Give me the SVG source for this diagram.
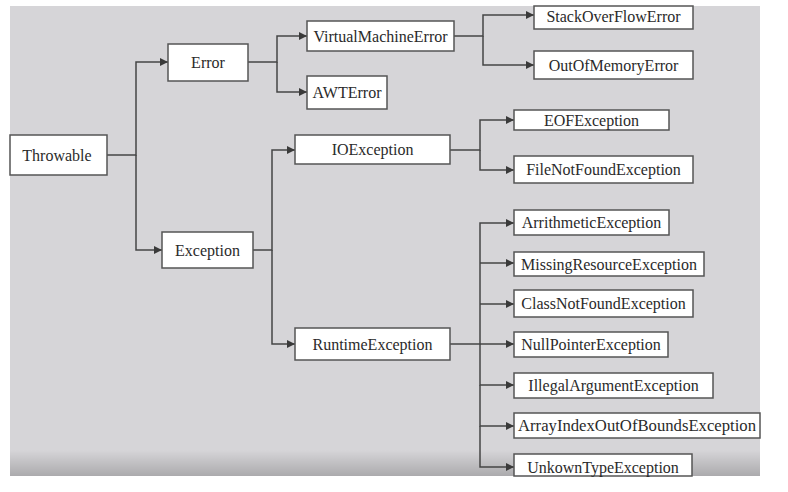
<svg xmlns="http://www.w3.org/2000/svg" width="788" height="492" viewBox="0 0 788 492">
<defs>
<marker id="ah" viewBox="0 0 10 10" refX="10" refY="5" markerWidth="9" markerHeight="8" markerUnits="userSpaceOnUse" orient="auto">
<path d="M0,0 L10,5 L0,10 z" fill="#3a3a3a"/>
</marker>
<linearGradient id="shade" x1="0" y1="0" x2="0" y2="1">
<stop offset="0" stop-color="#000" stop-opacity="0"/>
<stop offset="1" stop-color="#000" stop-opacity="0.2"/>
</linearGradient>
<style>
.box{fill:#fff;stroke:#555;stroke-width:1.5}
.lbl{font-family:"Liberation Serif","Times New Roman",serif;font-size:16px;fill:#2a2a2a;text-anchor:middle;dominant-baseline:central}
.edge{fill:none;stroke:#454545;stroke-width:1.5;marker-end:url(#ah)}
</style>
</defs>
<rect x="0" y="0" width="788" height="492" fill="#fff"/>
<rect x="10" y="6" width="750" height="470" fill="#d6d5d8"/>
<rect x="10" y="450" width="750" height="26" fill="url(#shade)"/>
<g id="connectors">
<path class="edge" d="M107,155 H136 V62 H168"/>
<path class="edge" d="M136,155 V250 H162"/>
<path class="edge" d="M248,62 H277 V36 H307"/>
<path class="edge" d="M277,62 V92 H307"/>
<path class="edge" d="M454,36 H483 V15 H534"/>
<path class="edge" d="M483,36 V65 H534"/>
<path class="edge" d="M253,250 H272 V150 H295"/>
<path class="edge" d="M272,250 V344 H295"/>
<path class="edge" d="M450,150 H480 V120 H514"/>
<path class="edge" d="M480,150 V170 H514"/>
<path class="edge" d="M450,344 H480 V223 H514"/>
<path class="edge" d="M480,263 H514"/>
<path class="edge" d="M480,304 H514"/>
<path class="edge" d="M480,344 H514"/>
<path class="edge" d="M480,344 V385 H514"/>
<path class="edge" d="M480,385 V426 H514"/>
<path class="edge" d="M480,426 V467 H514"/>
</g>
<g id="Throwable"><rect class="box" x="10" y="135" width="97" height="40"/><text class="lbl" x="57" y="155">Throwable</text></g>
<g id="Error"><rect class="box" x="168" y="44" width="80" height="37"/><text class="lbl" x="208" y="62.5">Error</text></g>
<g id="Exception"><rect class="box" x="162" y="232" width="91" height="36"/><text class="lbl" x="207.5" y="250">Exception</text></g>
<g id="VirtualMachineError"><rect class="box" x="307" y="21" width="147" height="30"/><text class="lbl" x="380.5" y="36">VirtualMachineError</text></g>
<g id="AWTError"><rect class="box" x="307" y="76" width="80" height="33"/><text class="lbl" x="347" y="92.5">AWTError</text></g>
<g id="IOException"><rect class="box" x="295" y="135" width="155" height="29"/><text class="lbl" x="372.5" y="149.5">IOException</text></g>
<g id="RuntimeException"><rect class="box" x="295" y="328" width="155" height="32"/><text class="lbl" x="372.5" y="344">RuntimeException</text></g>
<g id="StackOverFlowError"><rect class="box" x="534" y="6" width="159" height="23"/><text class="lbl" x="613.5" y="16">StackOverFlowError</text></g>
<g id="OutOfMemoryError"><rect class="box" x="534" y="51" width="159" height="28"/><text class="lbl" x="613.5" y="65">OutOfMemoryError</text></g>
<g id="EOFException"><rect class="box" x="514" y="110" width="155" height="20"/><text class="lbl" x="591.5" y="120">EOFException</text></g>
<g id="FileNotFoundException"><rect class="box" x="514" y="156" width="179" height="27"/><text class="lbl" x="603.5" y="169.5">FileNotFoundException</text></g>
<g id="ArrithmeticException"><rect class="box" x="514" y="210" width="155" height="25"/><text class="lbl" x="591.5" y="222.5">ArrithmeticException</text></g>
<g id="MissingResourceException"><rect class="box" x="514" y="252" width="190" height="24"/><text class="lbl" x="609" y="264">MissingResourceException</text></g>
<g id="ClassNotFoundException"><rect class="box" x="514" y="290" width="179" height="27"/><text class="lbl" x="603.5" y="303.5">ClassNotFoundException</text></g>
<g id="NullPointerException"><rect class="box" x="514" y="332" width="154" height="25"/><text class="lbl" x="591" y="344.5">NullPointerException</text></g>
<g id="IllegalArgumentException"><rect class="box" x="514" y="373" width="199" height="25"/><text class="lbl" x="613.5" y="385.5">IllegalArgumentException</text></g>
<g id="ArrayIndexOutOfBoundsException"><rect class="box" x="514" y="413" width="246" height="25"/><text class="lbl" x="637" y="425.5" textLength="238" lengthAdjust="spacingAndGlyphs">ArrayIndexOutOfBoundsException</text></g>
<g id="UnkownTypeException"><rect class="box" x="514" y="454" width="178" height="22"/><text class="lbl" x="603" y="467">UnkownTypeException</text></g>
</svg>
